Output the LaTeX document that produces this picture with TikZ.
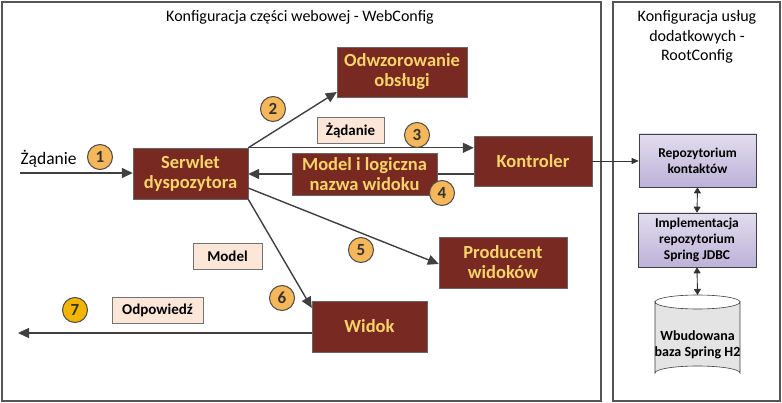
\documentclass[tikz,border=0pt]{standalone}
\usepackage{fontspec}
\setmainfont{Carlito}
\usetikzlibrary{arrows.meta,shapes.geometric}
\definecolor{darkred}{HTML}{782A22}
\definecolor{ytext}{HTML}{F6D46A}
\definecolor{peach}{HTML}{FBE6D8}
\definecolor{orng}{HTML}{F6B65A}
\definecolor{gold}{HTML}{F2B500}
\definecolor{lavtop}{HTML}{E2DDEE}
\definecolor{lavbot}{HTML}{BCB2D8}
\definecolor{frame}{HTML}{555555}
\definecolor{dbgray}{HTML}{E4E4E4}
\tikzset{
  panel/.style={draw=frame,line width=1.6pt},
  redbox/.style={draw=black!60,fill=darkred,text=ytext,font=\fontsize{18.5}{20}\selectfont\bfseries,align=center,inner sep=0pt},
  lightbox/.style={draw=black!55,fill=peach,font=\fontsize{15}{17}\selectfont\bfseries,inner sep=0pt,line width=0.6pt},
  numcirc/.style={circle,draw=black!70,fill=orng,line width=1pt,minimum size=25pt,inner sep=0pt,font=\fontsize{17}{17}\selectfont\bfseries,text=black!80},
  lavbox/.style={draw=black!75,top color=lavtop,bottom color=lavbot,font=\fontsize{13.5}{16}\selectfont\bfseries,align=center,inner sep=0pt,line width=0.6pt},
  mainarrow/.style={draw=black!75,line width=1.4pt,-{Triangle[length=11pt,width=10pt]}},
  thinarrow/.style={draw=black!80,line width=0.6pt,-{Triangle[length=7pt,width=6pt]}},
  dblarrow/.style={draw=black!80,line width=0.9pt,{Triangle[length=6pt,width=7pt]}-{Triangle[length=6pt,width=7pt]}},
  dbshape/.style={draw=black!75,fill=dbgray,line width=0.6pt},
  titletext/.style={font=\fontsize{16}{19.5}\selectfont,align=center}
}
\begin{document}
\begin{tikzpicture}[x=1pt,y=-1pt]
\useasboundingbox (0,0) rectangle (782,403);
\fill[white] (0,0) rectangle (782,403);
% panels
\draw[panel] (2,2) rectangle (601,401);
\draw[panel] (613,2) rectangle (780,401);
\node[titletext] (t1) at (300,17) {Konfiguracja części webowej - WebConfig};
\node[titletext] (t2) at (697,37) {Konfiguracja usług\\dodatkowych -\\RootConfig};
% dark red nodes
\node[redbox,minimum width=115pt,minimum height=51pt] (serw) at (190.5,173.5) {Serwlet\\dyspozytora};
\node[redbox,minimum width=130pt,minimum height=50pt] (odw) at (402,72) {Odwzorowanie\\obsługi};
\node[redbox,minimum width=118pt,minimum height=50pt] (kontr) at (533,161) {Kontroler};
\node[redbox,minimum width=128pt,minimum height=51pt] (prod) at (503,262.5) {Producent\\widoków};
\node[redbox,minimum width=115pt,minimum height=51pt] (widok) at (369.5,326.5) {Widok};
\coordinate (mc) at (364.5,174);
% light boxes
\node[lightbox,minimum width=67pt,minimum height=26pt] (lz) at (350.5,130) {Żądanie};
\node[lightbox,minimum width=69pt,minimum height=26pt] (lm) at (227.5,256) {Model};
\node[lightbox,minimum width=91pt,minimum height=26pt] (lo) at (157.5,310) {Odpowiedź};
% incoming request
\coordinate (in) at (20,173);
\node[font=\fontsize{17.5}{19}\selectfont,anchor=west] (lin) at (17,159) {Żądanie};
\draw[mainarrow] (in) -- (serw.west |- in);
% arrows
\draw[mainarrow] (serw.north east) -- (odw.west |- 0,92);
\draw[mainarrow] (serw.north east) -- (serw.north east -| kontr.west);
\draw[mainarrow] (kontr.west |- mc) -- (serw.east |- mc);
\node[redbox,minimum width=145pt,minimum height=42pt] (model) at (mc) {Model i logiczna\\nazwa widoku};
\draw[mainarrow] (serw.east |- 0,188) -- (prod.west |- 0,264);
\draw[mainarrow] (serw.south east) -- (widok.north west |- 0,308);
\coordinate (out) at (18,333);
\draw[mainarrow] (widok.west |- out) -- (out);
% circles
\node[numcirc] (c1) at (100,157) {1};
\node[numcirc] (c2) at (273,109) {2};
\node[numcirc] (c3) at (417,135) {3};
\node[numcirc] (c4) at (442,193) {4};
\node[numcirc] (c5) at (361,250) {5};
\node[numcirc] (c6) at (282,298) {6};
\node[numcirc,fill=gold] (c7) at (75,310) {7};
% right side
\node[lavbox,minimum width=117pt,minimum height=53pt] (repo) at (697.5,160.5) {Repozytorium\\kontaktów};
\node[lavbox,minimum width=118pt,minimum height=54pt] (impl) at (697,240) {Implementacja\\repozytorium\\Spring JDBC};
% database cylinder
\path[dbshape] (655,302) -- (655,373) arc (180:360:42.5 and 7) -- (740,302) arc (0:180:42.5 and 7) -- cycle;
\draw[draw=black!75,line width=0.6pt] (655,302) arc (180:360:42.5 and 7);
\coordinate (dbtop) at (697.5,295);
\node[font=\fontsize{14}{16.5}\selectfont\bfseries,align=center] (db) at (697.5,345) {Wbudowana\\baza Spring H2};
\draw[thinarrow] (kontr.east) -- (repo.west |- kontr.east);
\draw[dblarrow] (repo.south) -- (impl.north);
\draw[dblarrow] (impl.south) -- (dbtop);
\end{tikzpicture}
\end{document}
